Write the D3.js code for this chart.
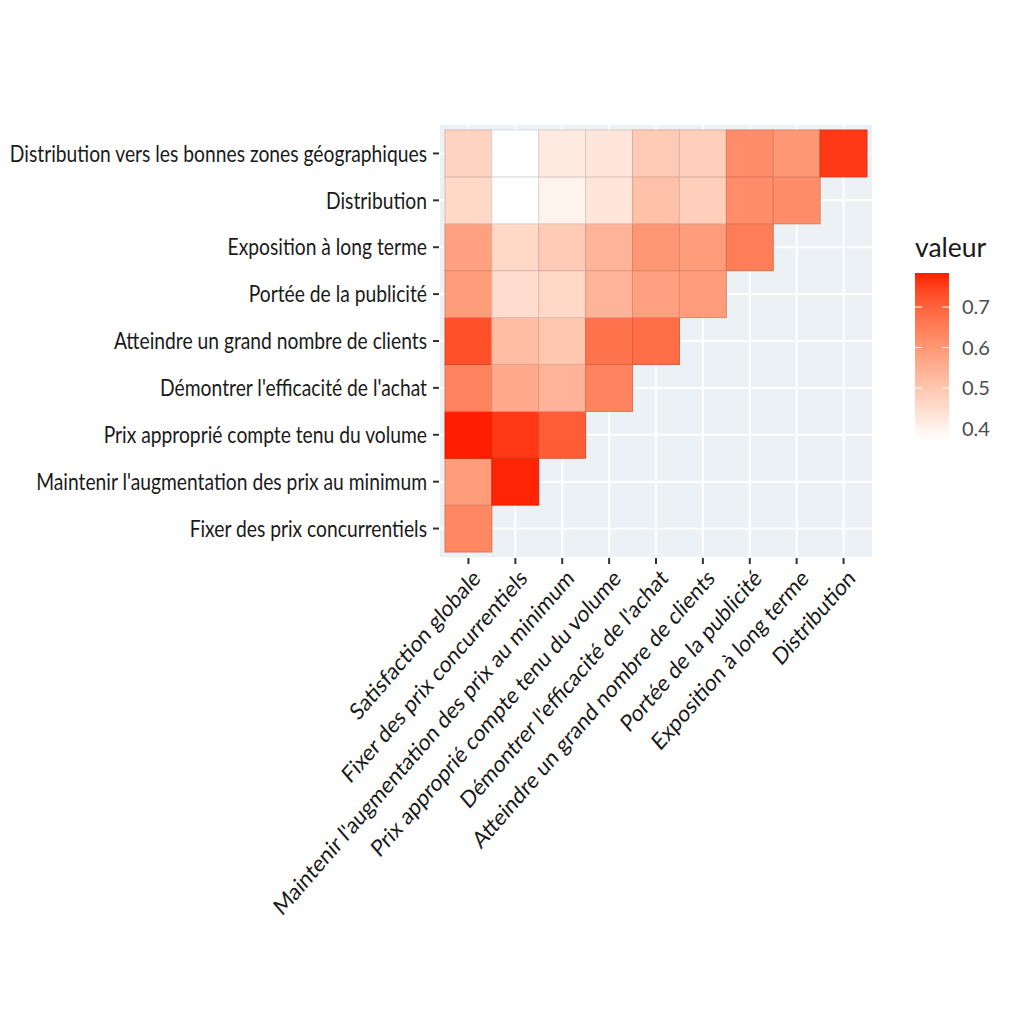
<!DOCTYPE html>
<html>
<head>
<meta charset="utf-8">
<script src="https://cdn.jsdelivr.net/npm/d3@7"></script>
<style>
  body { margin: 0; background: #fff; }
  text { font-family: Lato, "Open Sans", sans-serif; }
</style>
</head>
<body>
<div class="chart"></div>
<script>
// Columns (left to right) and rows (bottom to top)
let cols = ["Satisfaction globale", "Fixer des prix concurrentiels",
  "Maintenir l'augmentation des prix au minimum", "Prix approprié compte tenu du volume",
  "Démontrer l'efficacité de l'achat", "Atteindre un grand nombre de clients",
  "Portée de la publicité", "Exposition à long terme", "Distribution"];
let rows = ["Fixer des prix concurrentiels", "Maintenir l'augmentation des prix au minimum",
  "Prix approprié compte tenu du volume", "Démontrer l'efficacité de l'achat",
  "Atteindre un grand nombre de clients", "Portée de la publicité",
  "Exposition à long terme", "Distribution", "Distribution vers les bonnes zones géographiques"];

// Values per row (same order as rows), one per column up to the diagonal
let v_fixer = [0.63];
let v_maintenir = [0.59, 0.78];
let v_prix = [0.784, 0.76, 0.71];
let v_demontrer = [0.64, 0.56, 0.54, 0.64];
let v_atteindre = [0.73, 0.52, 0.50, 0.67, 0.68];
let v_portee = [0.59, 0.45, 0.46, 0.54, 0.58, 0.59];
let v_exposition = [0.58, 0.46, 0.49, 0.54, 0.60, 0.59, 0.65];
let v_distribution = [0.46, 0.372, 0.40, 0.43, 0.51, 0.48, 0.62, 0.62];
let v_zones = [0.47, 0.372, 0.42, 0.43, 0.49, 0.48, 0.62, 0.60, 0.76];

let legend_ticks = [0.4, 0.5, 0.6, 0.7];

let all_rows = [v_fixer, v_maintenir, v_prix, v_demontrer, v_atteindre,
  v_portee, v_exposition, v_distribution, v_zones];

let cells = [];
all_rows.forEach(function(vals, ri) {
  vals.forEach(function(v, ci) {
    cells.push({ row: rows[ri], col: cols[ci], value: v });
  });
});

let svg = d3.select("div.chart").append("svg")
    .attr("width", 1024)
    .attr("height", 1024);

// Text is a little condensed in the original
let squeeze_y = 0.82;
let squeeze_x = 0.87;
let label_size = "23.5px";

// Scales
let x = d3.scaleBand().domain(cols).range([445, 867]);
let y = d3.scaleBand().domain(rows).range([552, 130]);
let ext = d3.extent(cells, d => d.value);
let color = d3.scaleLinear().domain(ext)
    .range(["#ffffff", "#ff1e00"]).interpolate(d3.interpolateLab);

// Panel background
svg.append("rect")
  .attr("x", 440).attr("y", 125)
  .attr("width", 432).attr("height", 432)
  .attr("fill", "#ebf1f5");

// Grid lines
svg.selectAll("line.vgrid").data(cols).enter().append("line")
  .attr("x1", d => x(d) + x.bandwidth() / 2).attr("x2", d => x(d) + x.bandwidth() / 2)
  .attr("y1", 125).attr("y2", 557)
  .attr("stroke", "#fff").attr("stroke-width", 2);
svg.selectAll("line.hgrid").data(rows).enter().append("line")
  .attr("y1", d => y(d) + y.bandwidth() / 2).attr("y2", d => y(d) + y.bandwidth() / 2)
  .attr("x1", 440).attr("x2", 872)
  .attr("stroke", "#fff").attr("stroke-width", 2);

// Tiles
svg.selectAll("rect.tile").data(cells).enter().append("rect")
  .attr("x", d => x(d.col)).attr("y", d => y(d.row))
  .attr("width", x.bandwidth()).attr("height", y.bandwidth())
  .attr("fill", d => color(d.value))
  .attr("stroke", d => d3.color(color(d.value)).darker(0.4))
  .attr("stroke-width", 1);

// Y axis
let yAxis = svg.append("g");
rows.forEach(function(r) {
  let cy = y(r) + y.bandwidth() / 2;
  yAxis.append("line").attr("x1", 433).attr("x2", 439)
    .attr("y1", cy).attr("y2", cy).attr("stroke", "#333").attr("stroke-width", 2);
  yAxis.append("text")
    .attr("transform", "translate(427," + cy + ") scale(" + squeeze_y + ",1)")
    .attr("dy", "0.35em").attr("text-anchor", "end")
    .style("font-size", label_size).attr("fill", "#1a1a1a")
    .text(r);
});

// X axis
let xAxis = svg.append("g");
cols.forEach(function(c) {
  let cx = x(c) + x.bandwidth() / 2;
  xAxis.append("line").attr("x1", cx).attr("x2", cx)
    .attr("y1", 558).attr("y2", 564).attr("stroke", "#333").attr("stroke-width", 2);
  xAxis.append("text")
    .attr("transform", "translate(" + (cx + 3) + ",568) scale(" + squeeze_x + ",1) rotate(-45)")
    .attr("dy", "0.7em").attr("text-anchor", "end")
    .style("font-size", label_size).attr("fill", "#1a1a1a")
    .text(c);
});

// Legend
let lx = 915, lw = 34;
let ly = d3.scaleLinear().domain(ext).range([440, 273]);
let grad = svg.append("defs").append("linearGradient")
  .attr("id", "lg").attr("x1", 0).attr("x2", 0).attr("y1", 1).attr("y2", 0);
d3.range(0, 1.0001, 0.1).forEach(function(t) {
  grad.append("stop").attr("offset", t)
    .attr("stop-color", color(ext[0] + t * (ext[1] - ext[0])));
});
svg.append("rect").attr("x", lx).attr("y", 273)
  .attr("width", lw).attr("height", 167).attr("fill", "url(#lg)");
legend_ticks.forEach(function(t) {
  svg.append("line").attr("x1", lx).attr("x2", lx + 7)
    .attr("y1", ly(t)).attr("y2", ly(t)).attr("stroke", "#fff").attr("stroke-width", 1);
  svg.append("line").attr("x1", lx + lw - 7).attr("x2", lx + lw)
    .attr("y1", ly(t)).attr("y2", ly(t)).attr("stroke", "#fff").attr("stroke-width", 1);
  svg.append("text").attr("x", lx + lw + 13).attr("y", ly(t))
    .attr("dy", "0.35em").style("font-size", "20px").attr("fill", "#4d4d4d")
    .text(t.toFixed(1));
});
svg.append("text").attr("x", lx).attr("y", 257)
  .style("font-size", "26.5px").attr("fill", "#1a1a1a").text("valeur");
</script>
</body>
</html>
